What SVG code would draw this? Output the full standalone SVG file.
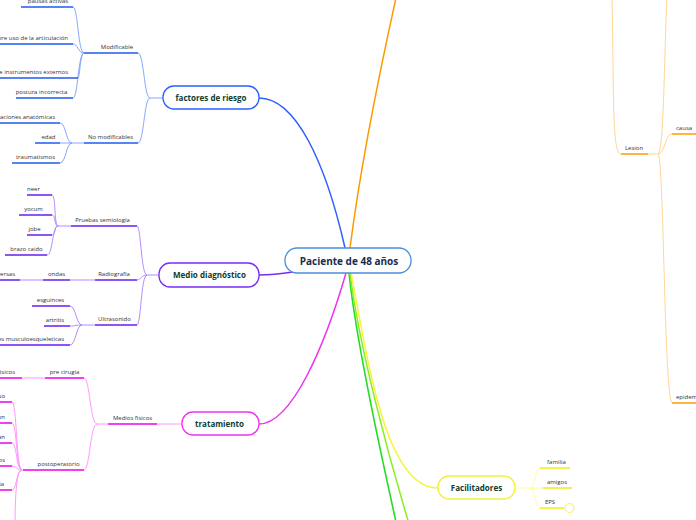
<svg xmlns="http://www.w3.org/2000/svg" width="696" height="520" viewBox="0 0 696 520">
<style>
text{font-family:"Open Sans","Liberation Sans",sans-serif}
.lb{font-size:6px;fill:#333;text-anchor:middle}
.le{font-size:6px;fill:#333;text-anchor:end}
.ls{font-size:6px;fill:#333;text-anchor:start}
.nt{font-size:8px;font-weight:bold;fill:#0e3d30;text-anchor:middle}
.ct{font-size:10px;font-weight:bold;fill:#1b2b4d;text-anchor:middle}
path{fill:none}
.node{fill:#fff;stroke-width:1.3}
.bt{stroke:#7a9dff;stroke-width:0.9}.bu{stroke:#1f5cf0;stroke-width:1.6}
.pt{stroke:#ab80ff;stroke-width:0.9}.pu{stroke:#6a1ef0;stroke-width:1.6}
.mt{stroke:#ff8cff;stroke-width:0.9}.mu{stroke:#ee00ee;stroke-width:1.6}
.yt{stroke:#ffff90;stroke-width:0.9}.yu{stroke:#eeee10;stroke-width:1.6}
.ot{stroke:#ffd08a;stroke-width:0.9}.ou{stroke:#ff9a10;stroke-width:1.6}
</style>
<rect width="696" height="520" fill="#fff"/>
<g id="connectors">
<path d="M350,248 C360,170 382,60 400,-20" stroke="#ff9900" stroke-width="1.5"/>
<path d="M345,248 C325,160 295,98 259,98" stroke="#2c5fff" stroke-width="1.5"/>
<path d="M293,272 C280,274 270,275 259,275" stroke="#7a2cf5" stroke-width="1.5"/>
<path d="M346,273 C325,345 292,424 259,424" stroke="#ee33ee" stroke-width="1.5"/>
<path d="M349,273 C356,340 380,450 400,540" stroke="#22dd22" stroke-width="1.6"/>
<path d="M350,273 C358,340 386,450 414,540" stroke="#88ee22" stroke-width="1.5"/>
<path d="M351,273 C368,360 385,488 438,488" stroke="#f5f53a" stroke-width="1.5"/>
<!-- factores de riesgo -->
<path class="bt" d="M163,98 L150,98 M150,98 C144,98 144,53 138,53 M150,98 C144,98 144,143 138,143"/>
<path class="bu" d="M84,53 L138,53 M84,143 L138,143"/>
<path class="bt" d="M72,143 L84,143 M84,53 C78,53 78,7 73,7 M84,53 C78,53 78,44 73,44 M84,53 C80,53 80,78 78,78 M84,53 C78,53 78,98 73,98"/>
<path class="bu" d="M21,7 L73,7 M0,44 L73,44 M0,78 L78,78 M16,98 L73,98"/>
<path class="bt" d="M72,143 C66,143 66,123 60,123 M72,143 L60,143 M72,143 C66,143 66,163 60,163"/>
<path class="bu" d="M0,123 L60,123 M35,143 L60,143 M12,163 L60,163"/>
<!-- medio diagnostico -->
<path class="pt" d="M159,275 L147,275 M147,275 C141,275 141,226 137,226 M147,275 C141,275 141,280 137,280 M147,275 C141,275 141,325 137,325"/>
<path class="pu" d="M71,226 L137,226 M95,280 L137,280 M95,325 L137,325"/>
<path class="pt" d="M71,226 L58,226 M58,226 C54,226 56,195 52,195 M58,226 C54,226 56,215 52,215 M58,226 C54,226 56,235 52,235 M58,226 C52,226 53,255 47,255"/>
<path class="pu" d="M27,195 L52,195 M19,215 L52,215 M27,235 L52,235 M5,255 L47,255"/>
<path class="pt" d="M95,280 L70,280 M20,280 L43,280"/>
<path class="pu" d="M43,280 L70,280 M0,280 L20,280"/>
<path class="pt" d="M95,325 L82,325 M82,325 C76,325 76,306 70,306 M82,325 C76,325 76,326 70,326 M82,325 C76,325 76,345 70,345"/>
<path class="pu" d="M32,306 L70,306 M44,326 L70,326 M0,345 L70,345"/>
<!-- tratamiento -->
<path class="mt" d="M182,424 L157,424 M108,424 L97,424 M97,424 C90,424 90,378 84,378 M97,424 C90,424 90,470 84,470"/>
<path class="mu" d="M108,424 L157,424 M45,378 L84,378 M0,378 L22,378 M23,470 L84,470"/>
<path class="mt" d="M22,378 L45,378 M22,470 L23,470"/>
<path class="mt" d="M22,470 C16,470 17,402 12,402 M22,470 C16,470 17,423 12,423 M22,470 C16,470 17,443 12,443 M22,470 C16,470 17,466 12,466 M22,470 C16,470 17,490 12,490 M22,470 C17,470 15,490 15,530"/>
<path class="mu" d="M0,402 L12,402 M0,423 L12,423 M0,443 L12,443 M0,466 L12,466 M0,490 L12,490"/>
<!-- facilitadores -->
<path class="yt" d="M515,488 L530,488 M530,488 C535,488 535,468 540,468 M530,488 L543,488 M530,488 C535,488 535,508 540,508"/>
<path class="yu" d="M540,468 L570,468 M543,488 L572,488 M540,508 L564,508"/>
<circle cx="569.5" cy="508" r="4.5" fill="#fff" stroke="#eeee40" stroke-width="0.9"/>
<!-- lesion -->
<path class="ot" d="M612,-5 C614,100 612,154 621,154 M648,154 L658,154 M658,154 C665,154 665,134 672,134 M658,154 C664,150 664,60 667,-5 M658,154 C664,158 664,395 672,403"/>
<path class="ou" d="M621,154 L648,154 M672,134 L700,134 M672,403 L700,403"/>
</g>
<g id="n-centro"><rect class="node" x="285" y="248" width="126" height="25" rx="12" stroke="#4a90d9"/><text class="ct" x="349" y="265">Paciente de 48 años</text></g>
<g id="n-factores"><rect class="node" x="163" y="86" width="96" height="23" rx="11" stroke="#2c5fff"/><text class="nt" x="211" y="100.5">factores de riesgo</text></g>
<g id="n-medio"><rect class="node" x="159" y="263" width="100" height="24" rx="11" stroke="#7a2cf5"/><text class="nt" x="209.5" y="278">Medio diagnóstico</text></g>
<g id="n-tratamiento"><rect class="node" x="182" y="412" width="77" height="23" rx="11" stroke="#ee33ee"/><text class="nt" x="219.5" y="426.5">tratamiento</text></g>
<g id="n-facilitadores"><rect class="node" x="438" y="476" width="77" height="23" rx="11" stroke="#f0f040"/><text class="nt" x="476.5" y="490.5">Facilitadores</text></g>
<g id="labels-factores">
<text class="lb" x="117" y="49">Modificable</text>
<text class="lb" x="110.5" y="139">No modificables</text>
<text class="lb" x="48" y="2.5">pausas activas</text>
<text class="le" x="68" y="39.5">sobre uso de la articulación</text>
<text class="le" x="68" y="73.5">uso de instrumentos externos</text>
<text class="lb" x="41.5" y="93.5">postura incorrecta</text>
<text class="le" x="55" y="118.5">alteraciones anatómicas</text>
<text class="lb" x="48.5" y="138.5">edad</text>
<text class="lb" x="35.5" y="158.5">traumatismos</text>
</g>
<g id="labels-medio">
<text class="lb" x="102.5" y="221.5">Pruebas semiología</text>
<text class="lb" x="114" y="275.5">Radiografía</text>
<text class="lb" x="56.5" y="275.5">ondas</text>
<text class="le" x="15" y="275.5">transversas</text>
<text class="lb" x="114.5" y="320.5">Ultrasonido</text>
<text class="lb" x="33.5" y="190.5">neer</text>
<text class="lb" x="33.5" y="210.5">yocum</text>
<text class="lb" x="34.5" y="230.5">jobe</text>
<text class="lb" x="26.5" y="250.5">brazo caido</text>
<text class="lb" x="50.5" y="301.5">esguinces</text>
<text class="lb" x="55" y="321.5">artritis</text>
<text class="le" x="64" y="340.5">lesiones musculoesqueleticas</text>
</g>
<g id="labels-tratamiento">
<text class="lb" x="132.5" y="419.5">Medios fisicos</text>
<text class="lb" x="64.5" y="373.5">pre cirugia</text>
<text class="le" x="15" y="373.5">medios fisicos</text>
<text class="lb" x="58.5" y="465.5">postoperatorio</text>
<text class="le" x="5" y="397.5">reposo</text>
<text class="le" x="5" y="418.5">electroestimulacion</text>
<text class="le" x="5" y="438.5">ejercicios de Codman</text>
<text class="le" x="5" y="461.5">ejercicios isometricos</text>
<text class="le" x="4" y="485.5">crioterapia</text>
</g>
<g id="labels-facilitadores">
<text class="lb" x="556.5" y="463.5">familia</text>
<text class="lb" x="557" y="483.5">amigos</text>
<text class="lb" x="550" y="503.5">EPS</text>
</g>
<g id="labels-lesion">
<text class="lb" x="634" y="149.5">Lesion</text>
<text class="ls" x="676" y="129.5">causa</text>
<text class="ls" x="676" y="398.5">epidemiologia</text>
</g>
</svg>
